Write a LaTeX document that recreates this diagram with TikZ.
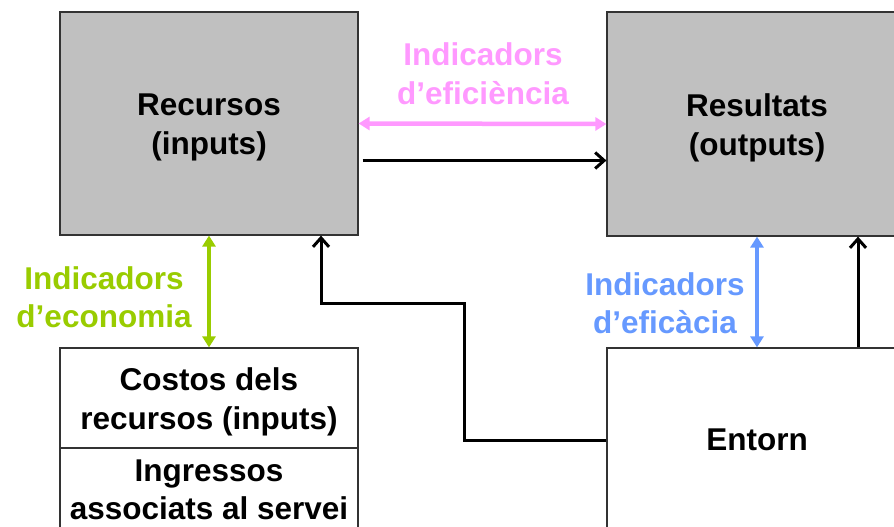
\documentclass[tikz,border=0pt]{standalone}
\usepackage{fontspec}
\setmainfont{Liberation Sans}
\usetikzlibrary{arrows.meta}
\definecolor{boxgray}{HTML}{C0C0C0}
\definecolor{edgegray}{HTML}{333333}
\definecolor{effpink}{HTML}{FF99FF}
\definecolor{ecogreen}{HTML}{99CC00}
\definecolor{efcblue}{HTML}{6699FF}
\tikzset{
  txt/.style={font=\fontsize{31.5}{38.5}\selectfont\bfseries, align=center},
  bigbox/.style={draw=edgegray, line width=1.2pt, inner sep=0pt},
  graybox/.style={bigbox, fill=boxgray},
  whitebox/.style={bigbox, fill=white},
  flow/.style={draw=black, line width=3pt, -{Straight Barb[length=9pt,width=16pt,line width=3pt]}},
  ind/.style={line width=4.5pt, {Triangle[length=11pt,width=13pt]}-{Triangle[length=11pt,width=13pt]}},
}
\begin{document}
\begin{tikzpicture}[x=1pt,y=-1pt]
\useasboundingbox (0,0) rectangle (894,527);
\clip (0,0) rectangle (894,527);
\node[graybox, minimum width=298pt, minimum height=223pt] (rec) at (209,123.5) {};
\node[graybox, minimum width=300pt, minimum height=224pt] (res) at (757,124) {};
\node[whitebox, minimum width=298pt, minimum height=100pt] (cost) at (209,398) {};
\node[whitebox, minimum width=298pt, minimum height=84pt] (ingr) at (209,490) {};
\node[whitebox, minimum width=300pt, minimum height=184pt] (ent) at (757,440) {};
% box texts
\node[txt] (trec) at ([yshift=-4pt]rec.center) {Recursos\\(inputs)};
\node[txt] (tres) at ([yshift=-4pt]res.center) {Resultats\\(outputs)};
\node[txt] (tcost) at ([yshift=-4pt]cost.center) {Costos dels\\recursos (inputs)};
\node[txt] (tingr) at ([yshift=0pt]ingr.center) {Ingressos\\associats al servei};
\node[txt] (tent) at (ent.center) {Entorn};
% indicator labels
\node[txt, text=effpink] (leff) at (483,73.5) {Indicadors\\d’eficiència};
\node[txt, text=ecogreen] (leco) at (104,297) {Indicadors\\d’economia};
\node[txt, text=efcblue] (lefc) at (665,303) {Indicadors\\d’eficàcia};
% indicator arrows
\draw[ind, effpink] (rec.east) -- (res.west);
\draw[ind, ecogreen] (rec.south) -- (cost.north);
\draw[ind, efcblue] (res.south) -- (ent.north);
% flows
\draw[flow, shorten <=4pt] ([yshift=-37pt]rec.east) -- ([yshift=-36.5pt]res.west);
\draw[flow] ([xshift=101pt]ent.north) -- ([xshift=101pt]res.south);
\coordinate (bend) at (464,303);
\draw[flow] (ent.west) -| (bend) -| ([xshift=112pt]rec.south);
\end{tikzpicture}
\end{document}
